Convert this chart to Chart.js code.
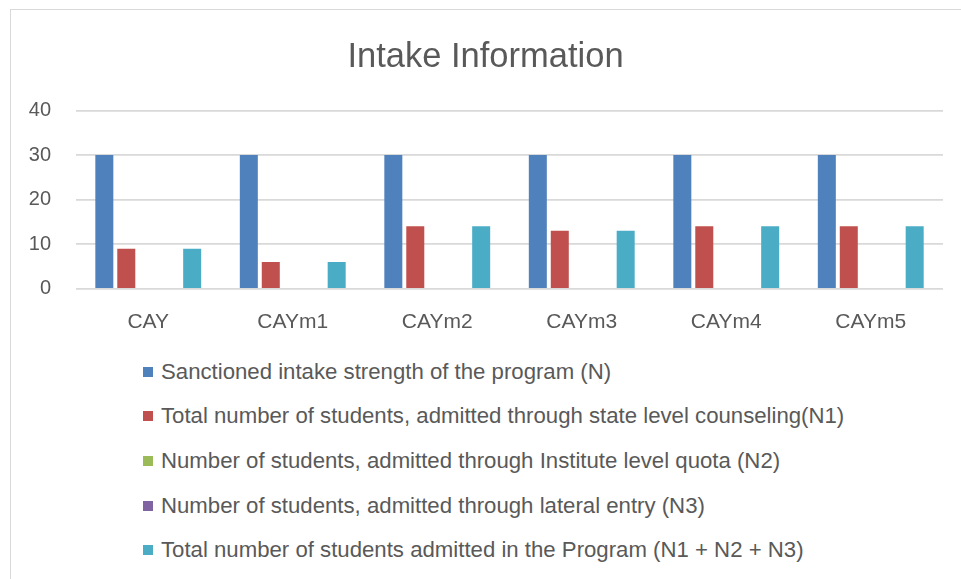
<!DOCTYPE html>
<html>
<head>
<meta charset="utf-8">
<script src="https://cdn.jsdelivr.net/npm/chart.js@4"></script>
<style>
  body { margin: 0; background: #fff; width: 961px; height: 579px; overflow: hidden; position: relative; }
  #frame { position: absolute; left: 10px; top: 9px; width: 960px; height: 580px; border: 1px solid #d9d9d9; box-sizing: border-box; }
  #wrap { position: absolute; left: 0; top: 0; width: 961px; height: 356px; }
  #legend { position: absolute; left: 143px; top: 0; font-family: "Liberation Sans", sans-serif; font-size: 22.2px; color: #595959; }
  .item { position: absolute; white-space: nowrap; display: flex; align-items: center; height: 24px; }
  .box { width: 10px; height: 10px; margin-right: 8px; }
</style>
</head>
<body>
<div id="frame"></div>
<div id="wrap"><canvas id="chart"></canvas></div>
<div id="legend"></div>
<script>
const categories = ['CAY', 'CAYm1', 'CAYm2', 'CAYm3', 'CAYm4', 'CAYm5'];
const sanctioned = [30, 30, 30, 30, 30, 30];
const stateLevel = [9, 6, 14, 13, 14, 14];
const instituteQuota = [0, 0, 0, 0, 0, 0];
const lateralEntry = [0, 0, 0, 0, 0, 0];
const totalAdmitted = [9, 6, 14, 13, 14, 14];

const seriesNames = [
    'Sanctioned intake strength of the program (N)',
    'Total number of students, admitted through state level counseling(N1)',
    'Number of students, admitted through Institute level quota (N2)',
    'Number of students, admitted through lateral entry (N3)',
    'Total number of students admitted in the Program (N1 + N2 + N3)',
];
const seriesColors = ['#4f81bd', '#c0504d', '#9bbb59', '#8064a2', '#4bacc6'];
const seriesData = [sanctioned, stateLevel, instituteQuota, lateralEntry, totalAdmitted];

const yMin = 0, yMax = 40, yStep = 10;
const textColor = '#595959';
const font = 'Liberation Sans, sans-serif';

const ctx = document.getElementById('chart').getContext('2d');
const chart = new Chart(ctx, {
    type: 'bar',
    data: {
        labels: categories,
        datasets: seriesData.map((d, i) => ({
            label: seriesNames[i],
            data: d,
            backgroundColor: seriesColors[i],
            borderWidth: 0,
            categoryPercentage: 0.76,
            barPercentage: 0.82,
        })),
    },
    options: {
        responsive: true,
        maintainAspectRatio: false,
        animation: false,
        layout: { padding: { left: 28, right: 18, top: 0, bottom: 8 } },
        plugins: {
            legend: { display: false },
            tooltip: { enabled: false },
            title: {
                display: true,
                text: 'Intake Information',
                color: textColor,
                font: { family: font, size: 34.5, weight: 'normal' },
                padding: { top: 37, bottom: 32 },
            },
        },
        scales: {
            x: {
                grid: { display: false },
                border: { display: false },
                ticks: { color: textColor, font: { family: font, size: 21 }, padding: 13 },
            },
            y: {
                min: yMin,
                max: yMax,
                ticks: { stepSize: yStep, color: textColor, font: { family: font, size: 20 }, padding: 25 },
                grid: { color: '#d9d9d9', lineWidth: 1.8, drawTicks: false },
                border: { display: false },
                // keep the axis box tight so the title sits a little further right, like the original
                afterFit: (scale) => { scale.width = 48; },
            },
        },
    },
});

// legend as html, one entry per line
const legend = document.getElementById('legend');
const rowTops = [360, 404, 449, 494, 538];
chart.data.datasets.forEach((ds, i) => {
    const item = document.createElement('div');
    item.className = 'item';
    item.style.top = rowTops[i] + 'px';
    item.innerHTML = '<span class="box" style="background:' + ds.backgroundColor + '"></span><span></span>';
    item.lastChild.textContent = ds.label;
    legend.appendChild(item);
});
</script>
</body>
</html>
